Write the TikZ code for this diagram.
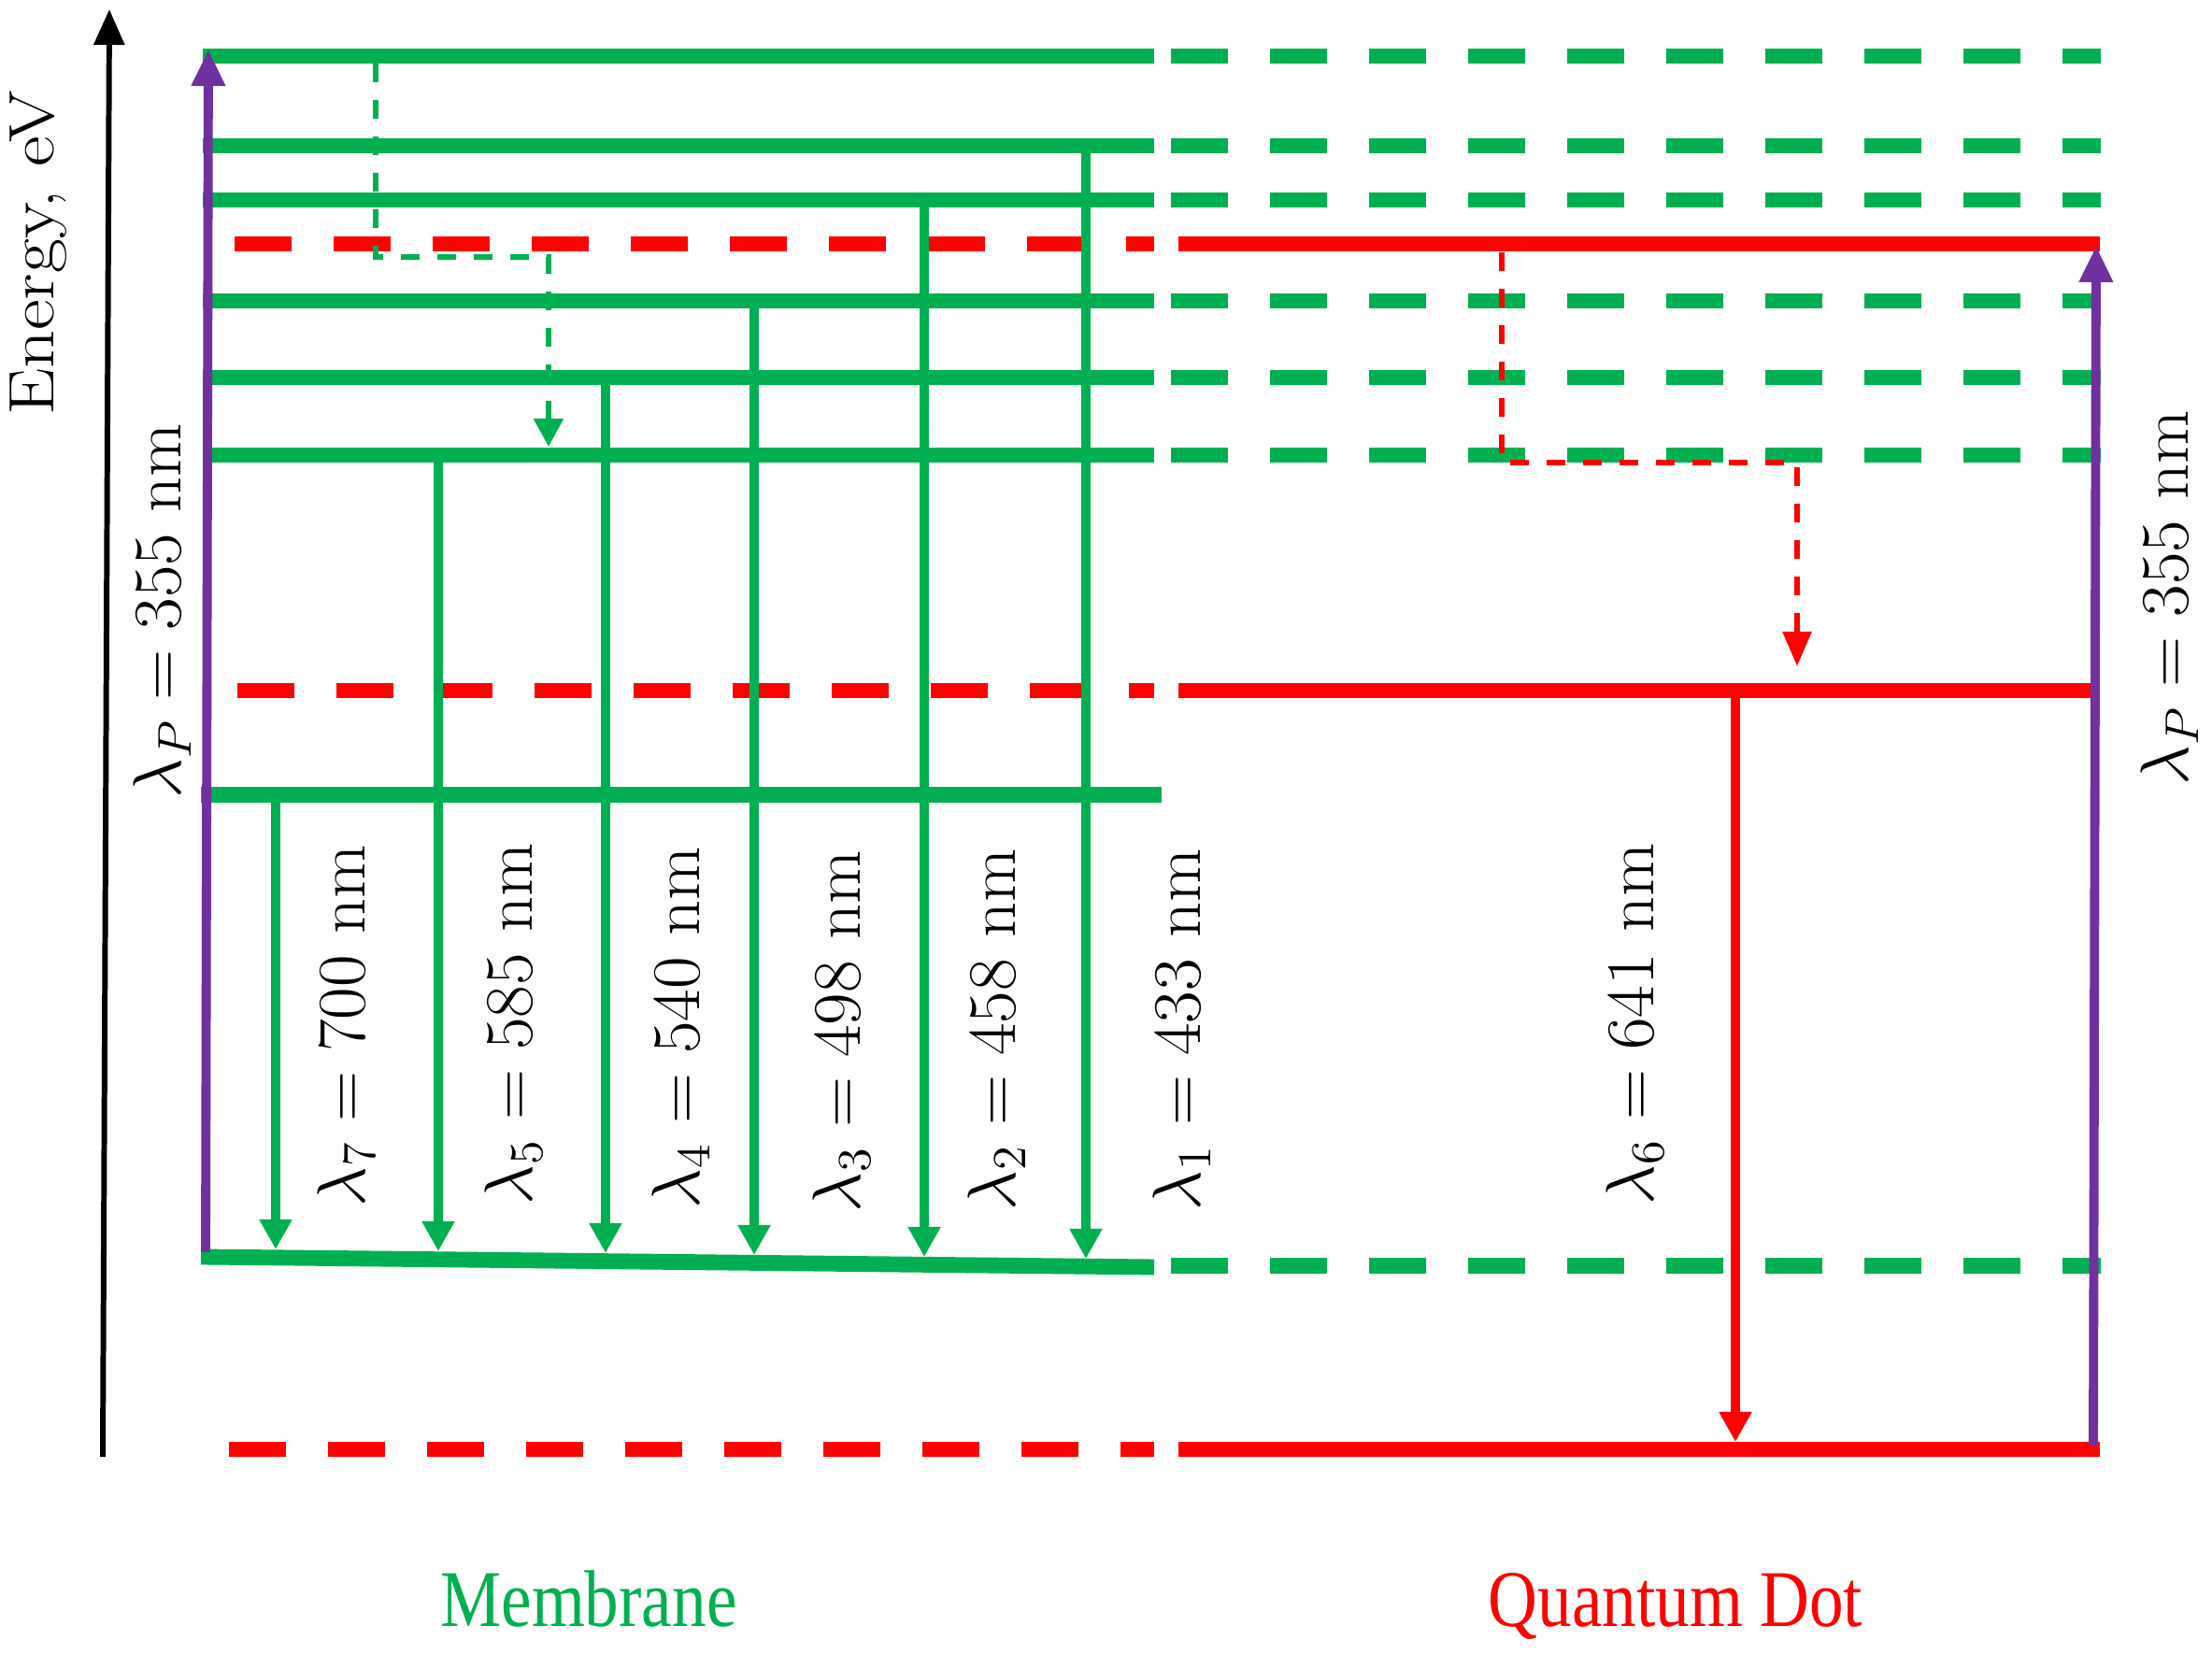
\documentclass[tikz,border=0pt]{standalone}
\usepackage{fontspec}
\usepackage{tikz}
\usetikzlibrary{arrows.meta}
\newfontfamily\capfont{Liberation Serif}
\definecolor{memgreen}{RGB}{0,176,80}
\definecolor{qdred}{RGB}{255,0,0}
\definecolor{pumppurple}{RGB}{112,48,160}

\tikzset{
  lvl/.style={line width=4.8pt},
  lvldash/.style={line width=4.8pt, dash pattern=on 0.61cm off 0.45cm},
  emit/.style={line width=2.9pt, -{Triangle[length=0.32cm,width=0.33cm]}},
  relax/.style={line width=1.7pt, dash pattern=on 0.2cm off 0.19cm},
  pump/.style={pumppurple, line width=2.8pt, -{Triangle[length=0.39cm,width=0.34cm]}},
  wl/.style={rotate=90, xscale=1.03, font=\fontsize{20.5}{24}\selectfont},
  side/.style={anchor=base, xscale=0.85, font=\capfont\fontsize{24.5}{28}\selectfont}
}

\begin{document}
\begin{tikzpicture}
  \useasboundingbox (0,0) rectangle (23.67,17.70);

  % energy axis
  \coordinate (ax0) at (1.10,2.11);
  \coordinate (ax1) at (1.17,17.60);
  \draw[line width=1.7pt, -{Triangle[length=0.38cm,width=0.32cm]}] (ax0) -- (ax1);
  \node[rotate=90, xscale=1.17, font=\fontsize{19.5}{23}\selectfont] (elab) at (0.41,14.99) {Energy, eV};

  % membrane levels
  \foreach \y in {17.10,16.14,15.56,14.48,13.66,12.83} {
    \draw[lvl, memgreen] (2.17,\y) -- (12.35,\y);
    \draw[lvldash, memgreen] (12.53,\y) -- (22.48,\y);
  }
  \draw[lvl, memgreen] (2.15,9.195) -- (12.43,9.195);
  \draw[lvl, memgreen] (2.15,4.25) -- (12.35,4.14);
  \draw[lvldash, memgreen] (12.53,4.155) -- (22.48,4.155);

  % quantum dot levels
  \foreach \y/\xs in {15.09/2.51, 10.31/2.54, 2.19/2.45} {
    \draw[lvldash, qdred] (\xs,\y) -- (12.35,\y);
    \draw[lvl, qdred] (12.61,\y) -- (22.47,\y);
  }

  % membrane emission
  \foreach \x/\yt/\yb/\i/\w/\lx/\ly in {2.95/9.195/4.33/7/700/3.71/6.72,
      4.69/12.83/4.31/5/585/5.50/6.74, 6.48/13.66/4.29/4/540/7.29/6.70,
      8.07/14.48/4.27/3/498/9.01/6.66, 9.89/15.56/4.25/2/458/10.67/6.68,
      11.62/16.14/4.23/1/433/12.65/6.68} {
    \coordinate (up\i) at (\x,\yt);
    \coordinate (dn\i) at (\x,\yb);
    \draw[emit, memgreen] (up\i) -- (dn\i);
    \node[wl] (lam\i) at (\lx,\ly) {$\lambda_{\i} = \w$ nm};
  }

  % quantum dot emission
  \coordinate (up6) at (18.57,10.31);
  \coordinate (dn6) at (18.57,2.27);
  \draw[emit, qdred, line width=3pt] (up6) -- (dn6);
  \node[wl] (lam6) at (17.50,6.74) {$\lambda_6 = 641$ nm};

  % non-radiative steps
  \coordinate (gr0) at (4.02,17.02);
  \coordinate (gr1) at (5.87,14.95);
  \coordinate (gr2) at (5.87,12.92);
  \draw[relax, memgreen, -{Triangle[length=0.30cm,width=0.31cm]}] (gr0) |- (gr1) -- (gr2);
  \coordinate (rr0) at (16.07,15.00);
  \coordinate (rr1) at (19.23,12.75);
  \coordinate (rr2) at (19.23,10.57);
  \draw[relax, qdred, line width=1.6pt, -{Triangle[length=0.37cm,width=0.30cm]}] (rr0) |- (rr1) -- (rr2);

  % pump
  \coordinate (pa0) at (2.20,4.30);
  \coordinate (pa1) at (2.23,17.17);
  \coordinate (pb0) at (22.40,2.23);
  \coordinate (pb1) at (22.43,15.07);
  \draw[pump] (pa0) -- (pa1);
  \draw[pump] (pb0) -- (pb1);
  \node[wl] (lpa) at (1.74,11.16) {$\lambda_P = 355$ nm};
  \node[wl] (lpb) at (23.22,11.30) {$\lambda_P = 355$ nm};

  \node[side, memgreen] (mem) at (6.30,0.29) {Membrane};
  \node[side, qdred] (qd) at (17.93,0.29) {Quantum Dot};
\end{tikzpicture}
\end{document}
